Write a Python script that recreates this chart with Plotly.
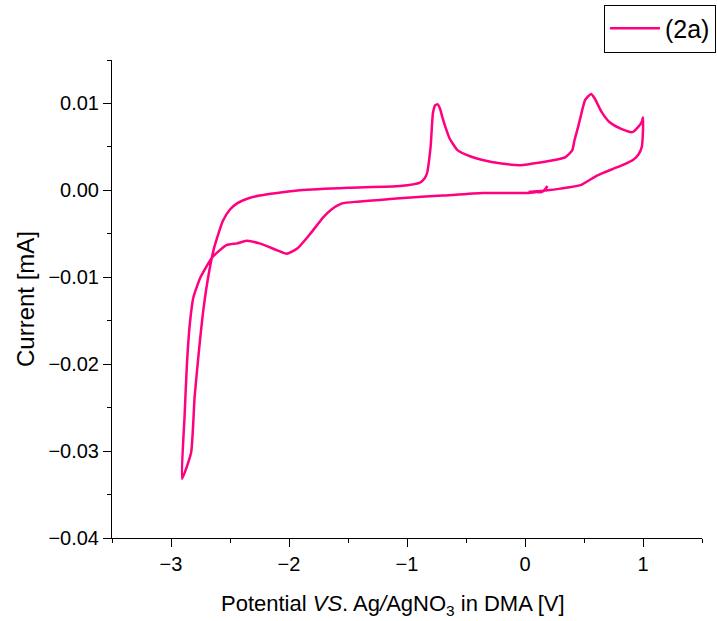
import plotly.graph_objects as go

# Cyclic voltammogram (2a): potential [V] and current [mA], traced in scan order
potential = [
    0.19, 0.17, 0.14, 0.10, 0.03, -0.10, -0.36, -0.70, -1.06, -1.23, -1.42, -1.55, -1.64, -1.71,
    -1.82, -1.93, -2.02, -2.10, -2.25, -2.36, -2.44, -2.53, -2.65, -2.75, -2.81,
    -2.84, -2.865, -2.885, -2.907,
    -2.83, -2.80, -2.76, -2.73, -2.69, -2.64, -2.61, -2.56, -2.50, -2.44, -2.36,
    -2.25, -2.10, -1.91, -1.50, -1.06, -0.89, -0.85, -0.83, -0.80, -0.78, -0.76, -0.74,
    -0.72, -0.70, -0.67, -0.64, -0.57, -0.46, -0.36, -0.20, -0.04, 0.13, 0.25,
    0.34, 0.40, 0.42, 0.45, 0.47, 0.51, 0.56, 0.59, 0.65, 0.72, 0.81, 0.91,
    0.96, 0.99, 1.00,
    1.00, 0.99, 0.96, 0.915, 0.84, 0.75, 0.61, 0.47, 0.30, 0.19, 0.10, 0.03,
]
current = [
    0.0005, 0.0001, -0.0002, -0.0002, -0.0003, -0.0003, -0.0003, -0.0006, -0.0009, -0.0011, -0.0013, -0.0015, -0.0022, -0.0031,
    -0.0050, -0.0067, -0.0073, -0.0069, -0.0061, -0.0058, -0.0061, -0.0063, -0.0077, -0.0100, -0.0123,
    -0.0153, -0.0200, -0.0260, -0.0332,
    -0.0302, -0.0238, -0.0180, -0.0142, -0.0104, -0.0069, -0.0055, -0.0035, -0.0022, -0.0015, -0.0010,
    -0.0006, -0.0003, 0.0000, 0.0003, 0.0005, 0.0009, 0.0014, 0.0020, 0.0050, 0.0089, 0.0098, 0.0099,
    0.0094, 0.0084, 0.0071, 0.0060, 0.0046, 0.0039, 0.0035, 0.0031, 0.0029, 0.0032, 0.0035,
    0.0038, 0.0046, 0.0058, 0.0073, 0.0084, 0.0104, 0.0111, 0.0106, 0.0090, 0.0078, 0.0071, 0.0067,
    0.0073, 0.0079, 0.0084,
    0.0070, 0.0050, 0.0041, 0.0035, 0.0030, 0.0025, 0.0017, 0.0006, 0.0002, 0.0000, -0.0001, -0.0002,
]
series_name = "(2a)"
x_title = "Potential <i>VS</i>. Ag<i>/</i>AgNO<sub>3</sub> in DMA [V]"
y_title = "Current [mA]"

fig = go.Figure()
fig.add_trace(go.Scatter(
    x=potential, y=current, mode="lines", name=series_name,
    line=dict(color="#FF0080", width=2.5, shape="spline", smoothing=0.5),
))

font = "Liberation Sans, Arial, sans-serif"
fig.update_layout(
    width=717, height=621,
    margin=dict(l=112, r=15, t=60, b=83, autoexpand=False),
    paper_bgcolor="white", plot_bgcolor="white",
    font=dict(family=font, size=20, color="black"),
    showlegend=True,
    legend=dict(
        x=1.0237, y=1.116, xanchor="right", yanchor="top",
        bordercolor="black", borderwidth=1, bgcolor="white",
        font=dict(size=25), tracegroupgap=0, itemwidth=50,
    ),
)
fig.add_annotation(
    text=x_title, xref="paper", yref="paper", x=0.476, y=-0.140,
    xanchor="center", yanchor="middle", showarrow=False,
    font=dict(size=22, family=font, color="black"),
)
fig.update_xaxes(
    range=[-3.5, 1.5], dtick=1, tick0=0, automargin=False,
    showgrid=False, zeroline=False,
    showline=True, linecolor="black", linewidth=1,
    ticks="outside", ticklen=8, tickcolor="black",
    minor=dict(dtick=0.5, ticks="outside", ticklen=4, tickcolor="black", showgrid=False),
    tickfont=dict(size=20),
)
fig.update_yaxes(
    range=[-0.04, 0.015], dtick=0.01, tick0=0, tickformat=".2f", automargin=False,
    showgrid=False, zeroline=False,
    showline=True, linecolor="black", linewidth=1,
    ticks="outside", ticklen=8, tickcolor="black",
    minor=dict(dtick=0.005, ticks="outside", ticklen=4, tickcolor="black", showgrid=False),
    tickfont=dict(size=20),
    title=dict(text=y_title, font=dict(size=24), standoff=6),
)

fig.write_html("out.html", config={"displayModeBar": False},
               post_script="document.body.style.margin='0';")
